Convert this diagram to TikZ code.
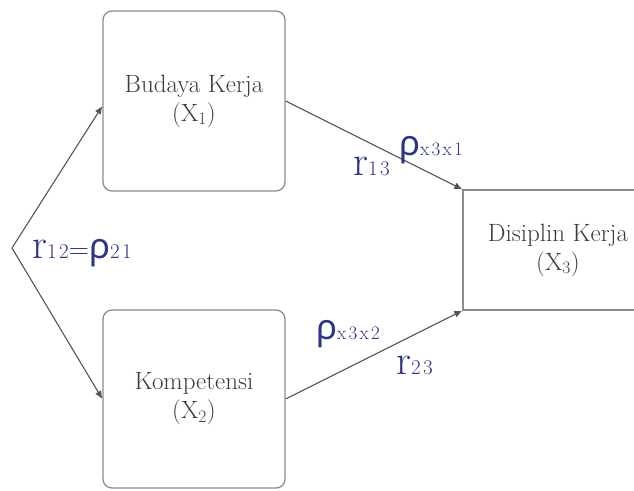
\documentclass[tikz,border=0pt]{standalone}
\usepackage{fontspec}
\newfontfamily\greekf{Noto Sans}
\newfontfamily\coeffont[LetterSpace=12]{Latin Modern Roman}
\usetikzlibrary{arrows.meta}
\definecolor{navy}{HTML}{2B3486}
\definecolor{edgecol}{HTML}{555555}
\definecolor{boxline}{HTML}{8C8C8C}
\definecolor{boxtext}{HTML}{3C3C3C}
\newcommand\rhosym{{\greekf\fontsize{35}{35}\selectfont ρ}}
\newcommand\coefr[1]{{\fontsize{42}{42}\selectfont r}{\coeffont\fontsize{21}{21}\selectfont #1}}
\newcommand\coefrho[1]{\rhosym{\coeffont\fontsize{21}{21}\selectfont #1}}
\newcommand\coefsub[1]{{\coeffont\fontsize{19}{19}\selectfont #1}}
\begin{document}
\begin{tikzpicture}[x=1pt,y=-1pt]
\tikzset{
  varbox/.style={draw=boxline, line width=1.3pt, rounded corners=9pt, minimum width=182pt,
    minimum height=180pt, align=center, text=boxtext, font=\fontsize{25}{29}\selectfont, inner sep=0pt},
  conn/.style={draw=edgecol, line width=1.1pt, -{Latex[length=8pt,width=7pt]}},
  coef/.style={text=navy, inner sep=0pt, anchor=base west},
}
\useasboundingbox (0,0) rectangle (634,490);
\clip (0,0) rectangle (634,490);
\fill[white] (0,0) rectangle (634,490);

\node[varbox] (b1) at (194,101) {Budaya Kerja\\(X\textsubscript{1})};
\node[varbox, minimum height=178pt] (b2) at (194,399) {Kompetensi\\(X\textsubscript{2})};
\node[varbox, rounded corners=0pt, minimum width=190pt, minimum height=120pt] (b3) at (558,250) {Disiplin Kerja\\(X\textsubscript{3})};

\coordinate (apex) at (12,248);
\draw[conn] (apex) -- ([yshift=-5pt]b1.west);
\draw[conn] (apex) -- (b2.west);
\draw[conn] (b1.east) -- (b3.north west);
\draw[conn] (b2.east) -- (b3.south west);

\node[coef] (l12) at (32,258) {\coefr{12}{\fontsize{28}{28}\selectfont =}\coefrho{21}};
\node[coef] (l13) at (353,175) {\coefr{13}};
\node[coef] (p31) at (399,155) {\rhosym\coefsub{x3x1}};
\node[coef] (p32) at (316,339) {\rhosym\coefsub{x3x2}};
\node[coef] (l23) at (396,374) {\coefr{23}};
\end{tikzpicture}
\end{document}
